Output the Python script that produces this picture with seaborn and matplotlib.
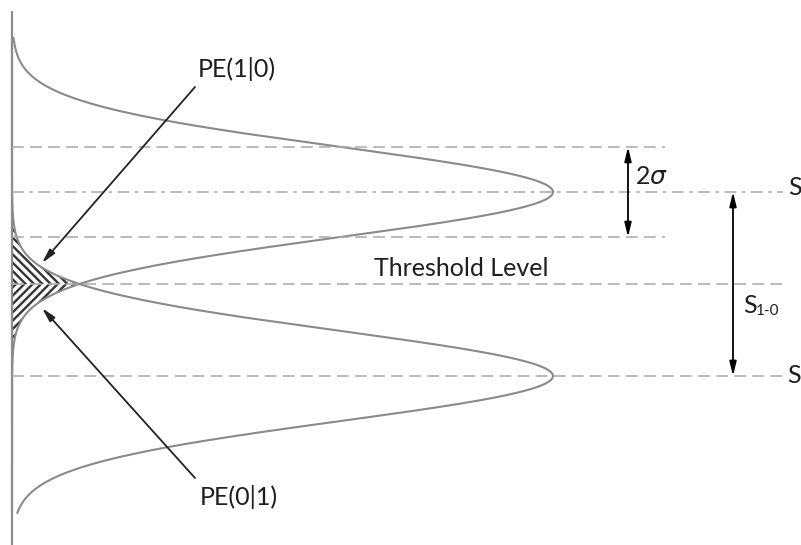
import numpy as np
import pandas as pd
import matplotlib
matplotlib.use("Agg")
import matplotlib.pyplot as plt
import seaborn as sns

# Received signal levels for bits 0 and 1, noise spread and decision threshold
level_labels = ["S$_0$", "S$_1$"]
level_values = [0.0, 1.0]
noise_sigma = 0.245
threshold_level = 0.5
# span of the drawn signal axis, in units of sigma below S0 / above S1
span_below = 3.04
span_above = 3.42

sns.set_theme(style="white")
plt.rcParams["font.family"] = ["Lato", "DejaVu Sans"]
plt.rcParams["mathtext.fontset"] = "dejavusans"
plt.rcParams["hatch.linewidth"] = 1.7
plt.rcParams["hatch.color"] = "#333333"
plt.rcParams["lines.scale_dashes"] = False

fig = plt.figure(figsize=(8.01, 5.45), dpi=100)
ax = fig.add_axes([0, 0, 1, 1])
ax.set_xlim(-12 / 541, 789 / 541)
ax.set_ylim((376 - 545) / 184, 376 / 184)
ax.axis("off")


def at(x, y):
    """Canvas pixel position -> (density, signal) coordinates."""
    return (x - 12) / 541, (376 - y) / 184


# probability density of each level, drawn sideways (density on x, signal on y)
signal = np.linspace(level_values[0] - span_below * noise_sigma,
                     level_values[1] + span_above * noise_sigma, 1200)
frames = []
for lab, lev in zip(level_labels, level_values):
    dens = np.exp(-0.5 * ((signal - lev) / noise_sigma) ** 2)
    frames.append(pd.DataFrame({"signal": signal, "density": dens, "bit": lab}))
curves = pd.concat(frames, ignore_index=True)

# overlap of the two densities: error probabilities, hatched as chevrons
d0 = curves.loc[curves.bit == level_labels[0], "density"].to_numpy()
d1 = curves.loc[curves.bit == level_labels[1], "density"].to_numpy()
overlap = np.minimum(d0, d1)
ax.fill_betweenx(signal, 0, overlap, where=signal >= threshold_level,
                 facecolor="none", edgecolor="#333333", hatch="\\\\\\\\", lw=0)
ax.fill_betweenx(signal, 0, overlap, where=signal <= threshold_level,
                 facecolor="none", edgecolor="#333333", hatch="////", lw=0)

sns.lineplot(data=curves, x="density", y="signal", hue="bit",
             palette={lab: "#8a8a8a" for lab in level_labels},
             sort=False, estimator=None, legend=False, lw=1.5, ax=ax)

# vertical axis
ax.axvline(0, ymin=0, ymax=1 - 12 / 545, color="#8c8c8c", lw=1.6)

# reference levels
dash = (0, (8.5, 4.5))
dash_dot = (0, (8.5, 4, 2.5, 4))
grey = "#a8a8a8"
s0, s1 = level_values
for y in (s1 + noise_sigma, s1 - noise_sigma):
    ax.hlines(y, 0, at(665, 0)[0], colors=grey, lw=1.1, linestyles=[dash])
ax.hlines(s1, 0, at(783, 0)[0], colors=grey, lw=1.1, linestyles=[dash_dot])
ax.hlines(threshold_level, 0, at(783, 0)[0], colors=grey, lw=1.1, linestyles=[dash])
ax.hlines(s0, 0, at(783, 0)[0], colors=grey, lw=1.1, linestyles=[dash])

# dimension arrows
two_way = dict(arrowstyle="<|-|>,head_length=0.7,head_width=0.17",
               color="black", lw=1.3, shrinkA=0, shrinkB=0)
xs = at(628, 0)[0]
ax.annotate("", xy=(xs, s1 + noise_sigma), xytext=(xs, s1 - noise_sigma),
            arrowprops=two_way)
xd = at(733, 0)[0]
ax.annotate("", xy=(xd, s1), xytext=(xd, s0), arrowprops=two_way)

# pointers to the error regions
one_way = dict(arrowstyle="-|>,head_length=0.7,head_width=0.17",
               color="#222222", lw=1.3, shrinkA=0, shrinkB=0)
ax.annotate("", xy=at(42, 263), xytext=at(195, 87), arrowprops=one_way)
ax.annotate("", xy=at(42, 308), xytext=at(195, 478), arrowprops=one_way)

txt = dict(fontsize=18, color="#1e1e1e", va="center", ha="left")
ax.text(*at(198, 69), "PE(1|0)", **txt)
ax.text(*at(200, 497), "PE(0|1)", **txt)
ax.text(*at(374, 268), "Threshold Level", **txt)
ax.text(*at(635, 176), r"2$\sigma$", **txt)
ax.text(*at(788, 189), level_labels[1], **txt)
ax.text(*at(787, 377), level_labels[0], **txt)
# difference of the two levels: S with a "1-0" subscript
ax.text(*at(743, 305), "S", **txt)
ax.text(*at(756, 311), "1-0", fontsize=11, color="#1e1e1e", va="center", ha="left")

fig.savefig("out.png", dpi=100)
